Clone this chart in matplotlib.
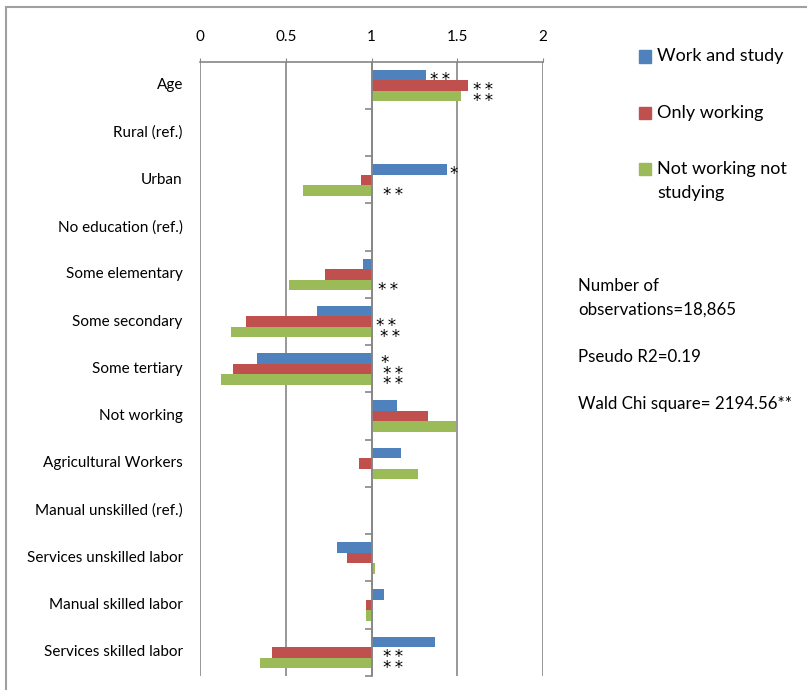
import numpy as np
import matplotlib
matplotlib.use("Agg")
import matplotlib.pyplot as plt
from matplotlib.patches import Rectangle
from matplotlib.transforms import blended_transform_factory

plt.rcParams['font.family'] = ['Lato', 'DejaVu Sans']

categories = ["Age", "Rural (ref.)", "Urban", "No education (ref.)", "Some elementary",
              "Some secondary", "Some tertiary", "Not working", "Agricultural Workers",
              "Manual unskilled (ref.)", "Services unskilled labor", "Manual skilled labor",
              "Services skilled labor"]
series = ["Work and study", "Only working", "Not working not\nstudying"]
work_study = [1.32, 1.0, 1.44, 1.0, 0.95, 0.68, 0.33, 1.15, 1.17, 1.0, 0.80, 1.07, 1.37]
only_working = [1.56, 1.0, 0.94, 1.0, 0.73, 0.27, 0.19, 1.33, 0.93, 1.0, 0.86, 0.97, 0.42]
not_working = [1.52, 1.0, 0.60, 1.0, 0.52, 0.18, 0.12, 1.49, 1.27, 1.0, 1.02, 0.97, 0.35]
colors = ["#4F81BD", "#C0504D", "#9BBB59"]

# significance stars: (category, series, text, x where text starts)
two = "*\u2009*"
stars = [(0, 0, two, 1.34), (0, 1, two, 1.59), (0, 2, two, 1.59),
         (2, 0, "*", 1.455), (2, 2, two, 1.065),
         (4, 2, two, 1.035),
         (5, 1, two, 1.025), (5, 2, two, 1.05),
         (6, 0, "*", 1.05), (6, 1, two, 1.065), (6, 2, two, 1.065),
         (12, 1, two, 1.065), (12, 2, two, 1.065)]

W, H = 807, 690
fig = plt.figure(figsize=(W / 100, H / 100), dpi=100)
ax = fig.add_axes([200 / W, 1 - 676 / H, 343 / W, (676 - 61.7) / H])

gray = "#868686"
h = 0.222
y = np.arange(len(categories))
for k, vals in enumerate([work_study, only_working, not_working]):
    vals = np.array(vals)
    ax.barh(y + (k - 1) * h, vals - 1, left=1, height=h, color=colors[k], zorder=3)

for c, s, txt, xs in stars:
    ax.annotate(txt, (xs, c + (s - 1) * h), xytext=(0, -7), textcoords="offset points",
                ha="left", va="baseline", fontsize=12, family="DejaVu Sans", zorder=4)

ax.set_xlim(0, 2)
ax.set_ylim(len(categories) - 0.5, -0.5)
ax.xaxis.tick_top()
ax.set_xticks([0, 0.5, 1, 1.5, 2])
ax.set_xticklabels(["0", "0.5", "1", "1.5", "2"])
ax.tick_params(axis="x", length=3, color=gray, pad=10, labelsize=11)
ax.grid(axis="x", color=gray, lw=1.2, zorder=0)

ax.set_yticks(np.arange(len(categories)) + 0.5)
ax.set_yticklabels([])
ax.tick_params(axis="y", length=5, color=gray, width=1.2)
ax.spines["left"].set_position(("data", 1))
ax.spines["left"].set_color(gray)
ax.spines["left"].set_linewidth(1.2)
ax.spines["left"].set_zorder(5)
ax.spines["top"].set_color(gray)
ax.spines["top"].set_linewidth(1.2)
ax.spines["right"].set_visible(False)
ax.spines["bottom"].set_visible(False)

trans = blended_transform_factory(ax.transAxes, ax.transData)
for i, cat in enumerate(categories):
    ax.text(-0.05, i, cat, transform=trans, ha="right", va="center", fontsize=11)

# legend
for k, name in enumerate(series):
    yc = 1 - (56.5 + k * 56.3) / H
    fig.add_artist(Rectangle((639 / W, yc - 6 / H), 12 / W, 12 / H,
                             transform=fig.transFigure, color=colors[k]))
    fig.text(657 / W, yc + 8 / H, name, ha="left", va="top", fontsize=13, linespacing=1.6)

notes = "Number of\nobservations=18,865\n\nPseudo R2=0.19\n\nWald Chi square= 2194.56**"
fig.text(578 / W, 1 - 278 / H, notes, ha="left", va="top", fontsize=12.2, linespacing=1.58)

fig.add_artist(Rectangle((6 / W, -0.1), 1.2, 0.1 + 1 - 7 / H, transform=fig.transFigure,
                         fill=False, edgecolor="#A0A0A0", lw=1.5))

fig.savefig("out.png", dpi=100)
